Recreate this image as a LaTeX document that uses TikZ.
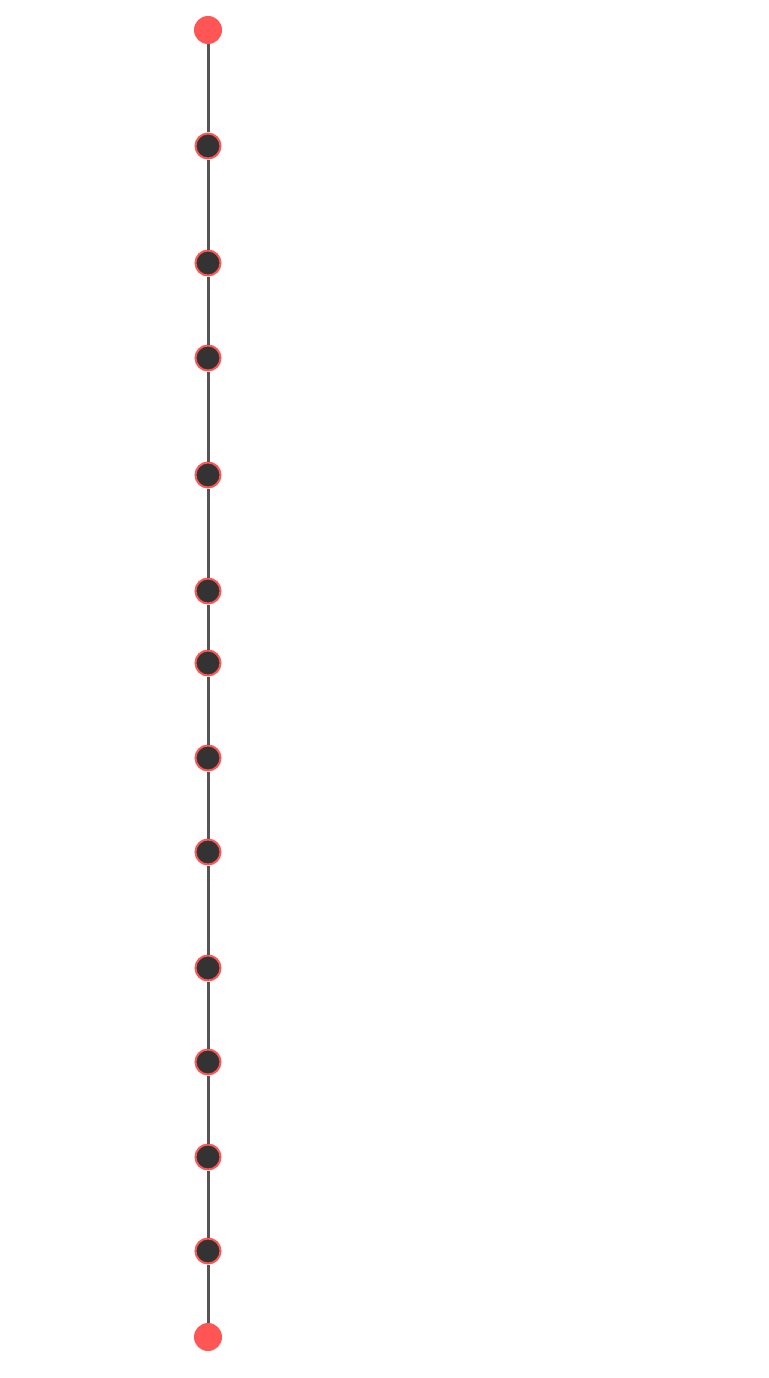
\documentclass[tikz,border=0pt]{standalone}
\definecolor{nodered}{HTML}{FF5555}
\definecolor{nodedark}{HTML}{333333}
\definecolor{edgegray}{HTML}{555555}
\tikzset{
  endpt/.style={circle,fill=nodered,draw=none,minimum size=28pt,inner sep=0pt},
  midpt/.style={circle,fill=nodedark,draw=nodered,line width=2pt,minimum size=25pt,inner sep=0pt},
  linkline/.style={draw=edgegray,line width=3pt}
}
\begin{document}
\begin{tikzpicture}[x=1pt,y=-1pt]
\useasboundingbox (0,0) rectangle (768,1378);
\fill[white] (0,0) rectangle (768,1378);
\node[endpt] (n0) at (208,30) {};
\node[midpt] (n1) at (208,146) {};
\node[midpt] (n2) at (208,263) {};
\node[midpt] (n3) at (208,358) {};
\node[midpt] (n4) at (208,475) {};
\node[midpt] (n5) at (208,591) {};
\node[midpt] (n6) at (208,663) {};
\node[midpt] (n7) at (208,758) {};
\node[midpt] (n8) at (208,852) {};
\node[midpt] (n9) at (208,968) {};
\node[midpt] (n10) at (208,1062) {};
\node[midpt] (n11) at (208,1157) {};
\node[midpt] (n12) at (208,1251) {};
\node[endpt] (n13) at (208,1337) {};
\draw[linkline] (n0) -- (n1);
\draw[linkline] (n1) -- (n2);
\draw[linkline] (n2) -- (n3);
\draw[linkline] (n3) -- (n4);
\draw[linkline] (n4) -- (n5);
\draw[linkline] (n5) -- (n6);
\draw[linkline] (n6) -- (n7);
\draw[linkline] (n7) -- (n8);
\draw[linkline] (n8) -- (n9);
\draw[linkline] (n9) -- (n10);
\draw[linkline] (n10) -- (n11);
\draw[linkline] (n11) -- (n12);
\draw[linkline] (n12) -- (n13);
\end{tikzpicture}
\end{document}
